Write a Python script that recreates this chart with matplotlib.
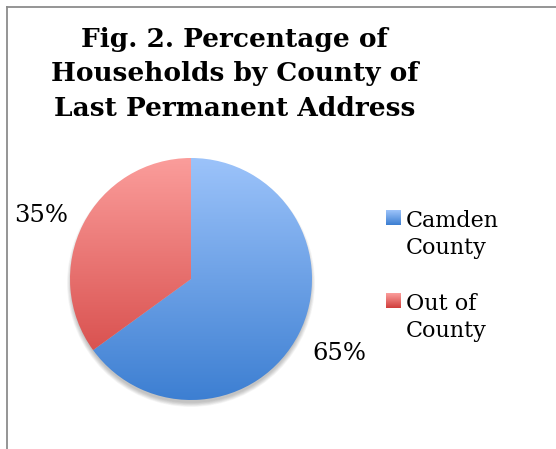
import matplotlib
matplotlib.use("Agg")
from matplotlib import pyplot as plt
from matplotlib.colors import LinearSegmentedColormap
from matplotlib.patches import Circle
import numpy as np

#### Data ####
labels = ["Camden\nCounty", "Out of\nCounty"]
values = [65, 35]
pct_text = ["65%", "35%"]
title = "Fig. 2. Percentage of\nHouseholds by County of\nLast Permanent Address"

# gradient colours (top, bottom)
grads = [("#9cc3fa", "#3d7fd2"), ("#fb9d9b", "#d13f3d")]

W, H = 556, 449
fig = plt.figure(figsize=(W / 100, H / 100), dpi=100)
ax = fig.add_axes([0, 0, 1, 1])

cx, cy, r = 191, H - 279, 121

# soft shadow under the pie
for k in range(8):
    ax.add_patch(Circle((cx, cy - 4), r + 3 - k * 0.6, color="k", alpha=0.03, lw=0, zorder=1))

wedges, _ = ax.pie(values, startangle=90, counterclock=False, center=(cx, cy),
                   radius=r, frame=True, wedgeprops=dict(lw=0))

for w, (c1, c2) in zip(wedges, grads):
    w.set_facecolor("none")
    cmap = LinearSegmentedColormap.from_list("g", [c2, c1])
    g = np.linspace(0, 1, 256).reshape(-1, 1)
    im = ax.imshow(g, cmap=cmap, origin="lower", aspect="auto",
                   extent=[cx - r, cx + r, cy - r, cy + r], zorder=2)
    im.set_clip_path(w)

serif = ["DejaVu Serif"]
fig.text(0.422, 1 - 74 / H, title, ha="center", va="center", fontsize=19,
         fontweight="bold", family=serif, linespacing=1.45)

# percentage labels
ax.text(339, H - 353, pct_text[0], ha="center", va="center", fontsize=17.5, family=serif)
ax.text(41, H - 215, pct_text[1], ha="center", va="center", fontsize=17.5, family=serif)

# legend
leg_y = [218, 301]
for lab, (c1, c2), y in zip(labels, grads, leg_y):
    cmap = LinearSegmentedColormap.from_list("g", [c2, c1])
    g = np.linspace(0, 1, 32).reshape(-1, 1)
    ax.imshow(g, cmap=cmap, origin="lower", aspect="auto",
              extent=[386, 401, H - y - 7.5, H - y + 7.5], zorder=3)
    ax.text(406, H - y + 8, lab, ha="left", va="top", fontsize=16, family=serif,
            linespacing=1.32)

ax.set_xlim(0, W)
ax.set_ylim(0, H)
ax.set_aspect("auto")
ax.set_axis_off()

# chart border (top and left visible)
fig.add_artist(plt.Line2D([7 / W, 1], [1 - 7 / H, 1 - 7 / H], color="#8c8c8c", lw=1.3))
fig.add_artist(plt.Line2D([7 / W, 7 / W], [0, 1 - 7 / H], color="#8c8c8c", lw=1.3))

fig.savefig("out.png", dpi=100)
